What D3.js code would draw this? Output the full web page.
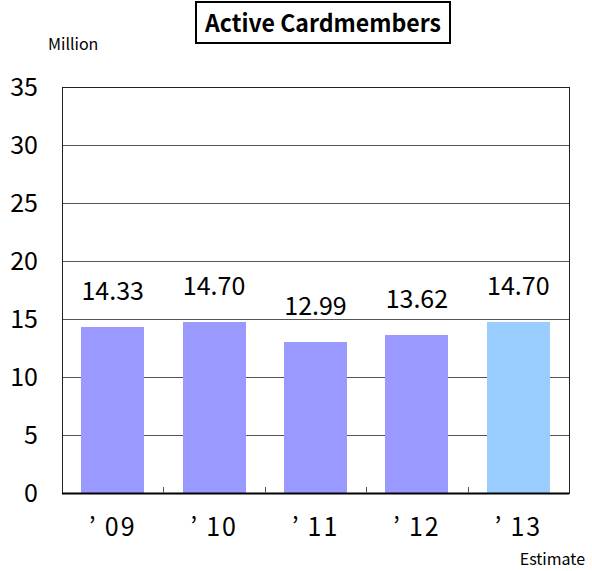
<!DOCTYPE html>
<html lang="en">
<head>
<meta charset="utf-8">
<title>Active Cardmembers</title>
<script src="https://cdn.jsdelivr.net/npm/d3@7"></script>
<style>
  body { margin: 0; background: #fff; }
  text { font-family: "Noto Sans CJK JP", "DejaVu Sans", sans-serif; fill: #000; }
</style>
</head>
<body>
<div id="chart"></div>
<script>
// data
var years = ["\u201909", "\u201910", "\u201911", "\u201912", "\u201913"];
var members = [14.33, 14.70, 12.99, 13.62, 14.70];
var isEstimate = [false, false, false, false, true];
var yTicks = [0, 5, 10, 15, 20, 25, 30, 35];

var width = 592, height = 571;
var margin = {top: 87, right: 23, bottom: 78, left: 62};
var plotW = width - margin.left - margin.right;
var plotH = height - margin.top - margin.bottom;

var svg = d3.select("#chart").append("svg")
    .attr("width", width)
    .attr("height", height);

var x = d3.scaleBand()
    .domain(years)
    .range([0, plotW])
    .paddingInner(0.38)
    .paddingOuter(0.19);

var y = d3.scaleLinear()
    .domain([0, 35])
    .range([plotH, 0]);

var g = svg.append("g")
    .attr("transform", "translate(" + margin.left + "," + margin.top + ")");

// gridlines
g.selectAll("line.grid")
    .data(yTicks.slice(1, -1))
    .enter().append("line")
    .attr("class", "grid")
    .attr("x1", 0).attr("x2", plotW)
    .attr("y1", function(d) { return y(d); })
    .attr("y2", function(d) { return y(d); })
    .attr("stroke", "#555")
    .attr("stroke-width", 1)
    .attr("shape-rendering", "crispEdges");

// bars
g.selectAll("rect.bar")
    .data(members)
    .enter().append("rect")
    .attr("class", "bar")
    .attr("x", function(d, i) { return x(years[i]); })
    .attr("width", x.bandwidth())
    .attr("y", function(d) { return y(d); })
    .attr("height", function(d) { return plotH - y(d); })
    .attr("fill", function(d, i) { return isEstimate[i] ? "#99ccff" : "#9999ff"; })
    .attr("shape-rendering", "crispEdges");

// frame
g.append("rect")
    .attr("x", 0).attr("y", 0)
    .attr("width", plotW).attr("height", plotH)
    .attr("fill", "none")
    .attr("stroke", "#222")
    .attr("stroke-width", 1)
    .attr("shape-rendering", "crispEdges");

// bottom axis with inward ticks between categories
var step = x.step();
g.append("line")
    .attr("x1", 0).attr("x2", plotW)
    .attr("y1", plotH + 0.5).attr("y2", plotH + 0.5)
    .attr("stroke", "#000").attr("stroke-width", 2);
g.selectAll("line.xtick")
    .data(years.slice(1))
    .enter().append("line")
    .attr("class", "xtick")
    .attr("x1", function(d) { return Math.round(x(d) - step * x.paddingInner() / 2) + 0.5; })
    .attr("x2", function(d) { return Math.round(x(d) - step * x.paddingInner() / 2) + 0.5; })
    .attr("y1", plotH).attr("y2", plotH - 6)
    .attr("stroke", "#555");

// y tick labels
g.selectAll("text.ylab")
    .data(yTicks)
    .enter().append("text")
    .attr("class", "ylab")
    .attr("x", -24)
    .attr("y", function(d) { return y(d); })
    .attr("dy", "0.36em")
    .attr("text-anchor", "end")
    .style("font-size", "25px")
    .text(function(d) { return d; });

// x labels (a little gap after the apostrophe like the original)
g.selectAll("text.xlab")
    .data(years)
    .enter().append("text")
    .attr("class", "xlab")
    .attr("x", function(d) { return x(d) + x.bandwidth() / 2; })
    .attr("y", plotH + 43)
    .attr("text-anchor", "middle")
    .style("font-size", "25px")
    .style("letter-spacing", "2px")
    .text(function(d) { return d.replace("\u2019", "\u2019\u2009"); });

// value labels
g.selectAll("text.val")
    .data(members)
    .enter().append("text")
    .attr("class", "val")
    .attr("x", function(d, i) { return x(years[i]) + x.bandwidth() / 2; })
    .attr("y", function(d) { return y(d) - 27; })
    .attr("text-anchor", "middle")
    .style("font-size", "25px")
    .text(function(d) { return d.toFixed(2); });

// title box
svg.append("rect")
    .attr("x", 196).attr("y", 2)
    .attr("width", 254).attr("height", 41)
    .attr("fill", "#fff")
    .attr("stroke", "#000")
    .attr("stroke-width", 2);
svg.append("text")
    .attr("x", 323).attr("y", 32)
    .attr("text-anchor", "middle")
    .style("font-size", "24px")
    .style("font-weight", "bold")
    .attr("textLength", 236)
    .attr("lengthAdjust", "spacingAndGlyphs")
    .text("Active Cardmembers");

svg.append("text")
    .attr("x", 48).attr("y", 50)
    .style("font-size", "16px")
    .text("Million");

svg.append("text")
    .attr("x", 585).attr("y", 565)
    .attr("text-anchor", "end")
    .style("font-size", "16px")
    .text("Estimate");
</script>
</body>
</html>
